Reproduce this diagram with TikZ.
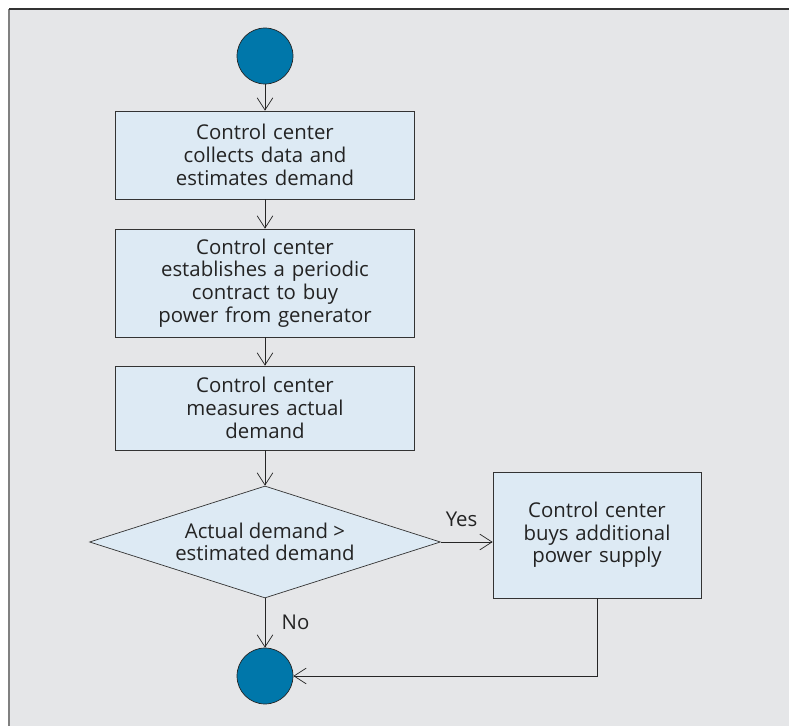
\documentclass[tikz,border=0pt]{standalone}
\usepackage{fontspec}
\setmainfont{Open Sans}
\usetikzlibrary{shapes.geometric,arrows.meta}
\definecolor{fond}{RGB}{229,230,232}
\definecolor{boite}{RGB}{221,234,244}
\definecolor{disque}{RGB}{0,119,170}
\definecolor{texte}{RGB}{35,35,35}

\begin{document}
\begin{tikzpicture}[x=0.02cm,y=-0.02cm,
  font=\fontsize{11.6}{12.9}\selectfont, text=texte,
  etape/.style={draw=black!80,fill=boite,text width=5.6cm,align=center,
                minimum width=5.98cm,inner sep=0pt},
  test/.style={diamond,aspect=3.13,draw=black!80,fill=boite,align=center,
               minimum width=7.02cm,minimum height=2.24cm,inner sep=0pt},
  borne/.style={circle,draw=black!85,fill=disque,minimum size=1.12cm,inner sep=0pt},
  fleche/.style={draw=black!85,-{Straight Barb[length=7pt,width=9pt]}}]
\useasboundingbox (0,0) rectangle (789,726);

% Cadre
\fill [fond] (9,9) rectangle (789,726);
\draw [gray, line width=1.1pt] (9,726) -- (9,9);
\draw [black!80, line width=0.8pt] (9,9) -- (789,9);

% Etapes
\node [borne] (debut) at (265,56) {};
\node [etape, minimum height=1.76cm] (collecte) at (265,155)
      {Control center\\collects data and\\estimates demand};
\node [etape, minimum height=2.16cm] (contrat) at (265,283)
      {Control center\\establishes a periodic\\contract to buy\\power from generator};
\node [etape, minimum height=1.68cm] (mesure) at (265,408)
      {Control center\\measures actual\\demand};
\node [test] (test) at (265,542) {Actual demand >\\estimated demand};
\node [etape, text width=3.9cm, minimum width=4.16cm, minimum height=2.52cm]
      (achat) at (597,535) {Control center\\buys additional\\power supply\\[6pt]};
\node [borne] (fin) at (265,676) {};

% Fleches
\foreach \a/\b in {debut/collecte, contrat/mesure, collecte/contrat, mesure/test}
\draw [fleche] (\a) -- (\b);
\draw [fleche] (test.east) -- node [above=5pt, pos=0.4] {Yes} (test.east -| achat.west);
\draw [fleche] (test) -- node [right=6pt, pos=0.48] {No} (fin);
\draw [fleche] (achat) -- (achat |- fin) -- (fin);

\end{tikzpicture}
\end{document}
